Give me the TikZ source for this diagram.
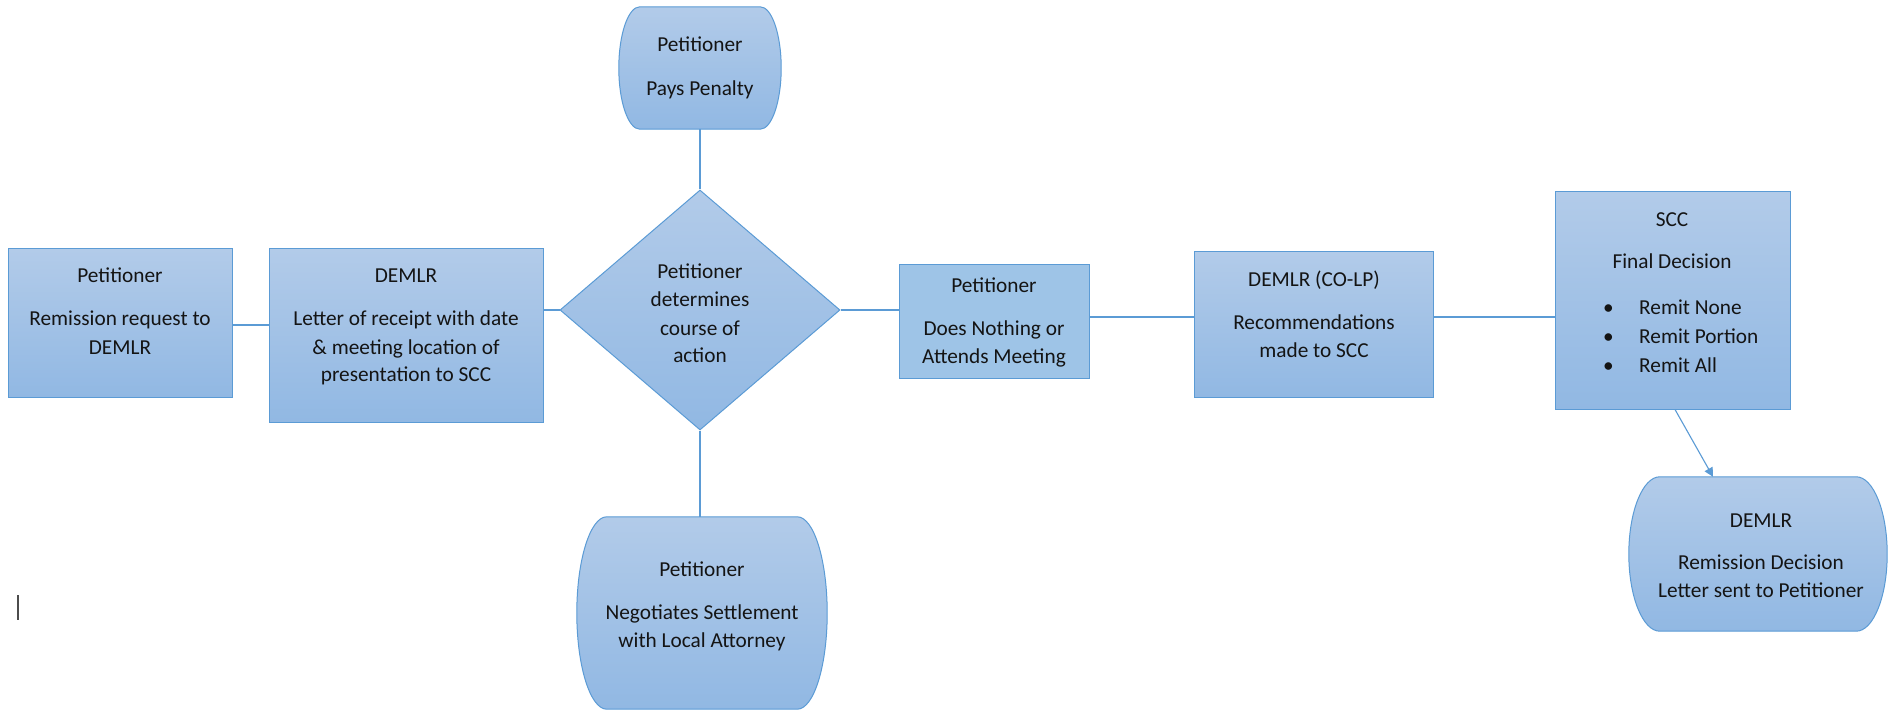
\documentclass[tikz,border=0pt]{standalone}
\usepackage{fontspec}
\setmainfont{Carlito}
\usetikzlibrary{shapes.geometric,arrows.meta,calc}
\definecolor{edgeblue}{RGB}{91,155,213}
\definecolor{topblue}{RGB}{178,203,233}
\definecolor{botblue}{RGB}{145,184,227}
\definecolor{flatblue}{RGB}{158,196,231}
\definecolor{txtcol}{RGB}{20,20,20}
\newcommand{\mytab}[1]{\begin{tabular}[t]{@{}c@{}}#1\end{tabular}}
\tikzset{
  boxnode/.style={draw=edgeblue, line width=1pt, top color=topblue, bottom color=botblue, inner sep=0pt, rectangle},
  flatnode/.style={draw=edgeblue, line width=1pt, fill=flatblue, inner sep=0pt, rectangle},
  ghost/.style={inner sep=0pt, rectangle},
  shapefill/.style={draw=edgeblue, line width=1pt, top color=topblue, bottom color=botblue},
  lbl/.style={anchor=base, inner sep=0pt, text=txtcol, font=\fontsize{21.3}{28}\selectfont},
  conn/.style={draw=edgeblue, line width=1.1pt},
}
\newcommand{\termshape}[3]{%
  \path[shapefill] ([xshift=#2]#1.north west) -- ([xshift=-#2]#1.north east)
    .. controls ([xshift=-0.4477*#2]#1.north east) and ([yshift=0.5523*#3]#1.east) .. (#1.east)
    .. controls ([yshift=-0.5523*#3]#1.east) and ([xshift=-0.4477*#2]#1.south east) .. ([xshift=-#2]#1.south east)
    -- ([xshift=#2]#1.south west)
    .. controls ([xshift=0.4477*#2]#1.south west) and ([yshift=-0.5523*#3]#1.west) .. (#1.west)
    .. controls ([yshift=0.5523*#3]#1.west) and ([xshift=0.4477*#2]#1.north west) .. ([xshift=#2]#1.north west)
    -- cycle;}
\begin{document}
\begin{tikzpicture}[x=1pt,y=-1pt]
\useasboundingbox (0,0) rectangle (1889,711);
\fill[white] (0,0) rectangle (1889,711);

\coordinate (yA) at (0,325);
\coordinate (yB) at (0,317);

% shapes
\node[boxnode, minimum width=224pt, minimum height=148pt] (b1) at (120,323) {};
\node[boxnode, minimum width=274pt, minimum height=173pt] (b2) at (406,335.5) {};
\node[boxnode, shape=diamond, minimum width=280pt, minimum height=240pt] (dm) at (700,310) {};
\node[ghost, minimum width=162pt, minimum height=122pt] (pay) at (700,68) {};
\termshape{pay}{21pt}{61pt}
\node[ghost, minimum width=250pt, minimum height=192pt] (neg) at (702,613) {};
\termshape{neg}{30pt}{96pt}
\node[flatnode, minimum width=190pt, minimum height=113pt] (dn) at (994,321.5) {};
\node[boxnode, minimum width=239pt, minimum height=145pt] (co) at (1313.5,324.5) {};
\node[boxnode, minimum width=235pt, minimum height=217pt] (scc) at (1672.5,300.5) {};
\node[ghost, minimum width=258pt, minimum height=154pt] (dl) at (1758,554) {};
\termshape{dl}{31pt}{77pt}

% connectors
\draw[conn] (b1.east |- yA) -- (b2.west |- yA);
\draw[conn] (b2.east |- dm.west) -- (dm.west);
\draw[conn] (dm.north) -- (pay.south);
\draw[conn] (dm.south) -- (dm.south |- neg.north);
\draw[conn] (dm.east) -- (dn.west |- dm.east);
\draw[conn] (dn.east |- yB) -- (co.west |- yB);
\draw[conn] (co.east |- yB) -- (scc.west |- yB);
\draw[conn, -{Triangle[length=9pt,width=9pt]}] ([xshift=2.5pt]scc.south) -- ([xshift=-45pt]dl.north);

% texts
\node[lbl] (t1) at (120,283) {\mytab{Petitioner\\[15pt]Remission request to\\DEMLR}};
\node[lbl] (t2) at (406,283) {\mytab{DEMLR\\[15pt]Letter of receipt with date\\\& meeting location of\\presentation to SCC}};
\node[lbl] (t3) at (700,279) {\mytab{Petitioner\\determines\\course of\\action}};
\node[lbl] (t4) at (700,52) {\mytab{Petitioner\\[16pt]Pays Penalty}};
\node[lbl] (t5) at (702,576) {\mytab{Petitioner\\[15pt]Negotiates Settlement\\with Local Attorney}};
\node[lbl] (t6) at (994,292) {\mytab{Petitioner\\[15pt]Does Nothing or\\Attends Meeting}};
\node[lbl] (t7) at (1314,287) {\mytab{DEMLR (CO-LP)\\[15pt]Recommendations\\made to SCC}};
\node[lbl] (t8) at (1672,227) {\mytab{SCC\\[14pt]Final Decision}};
\node[lbl, anchor=base west] (t9) at (1603,314) {\begin{tabular}[t]{@{}l@{}}\makebox[36pt][l]{\textbullet}Remit None\\[1pt]\makebox[36pt][l]{\textbullet}Remit Portion\\[1pt]\makebox[36pt][l]{\textbullet}Remit All\end{tabular}};
\node[lbl] (t10) at (1761,527) {\mytab{DEMLR\\[14pt]Remission Decision\\Letter sent to Petitioner}};

% stray text cursor
\draw[black!70, line width=1.3pt] (18,595) -- (18,620);
\end{tikzpicture}
\end{document}
